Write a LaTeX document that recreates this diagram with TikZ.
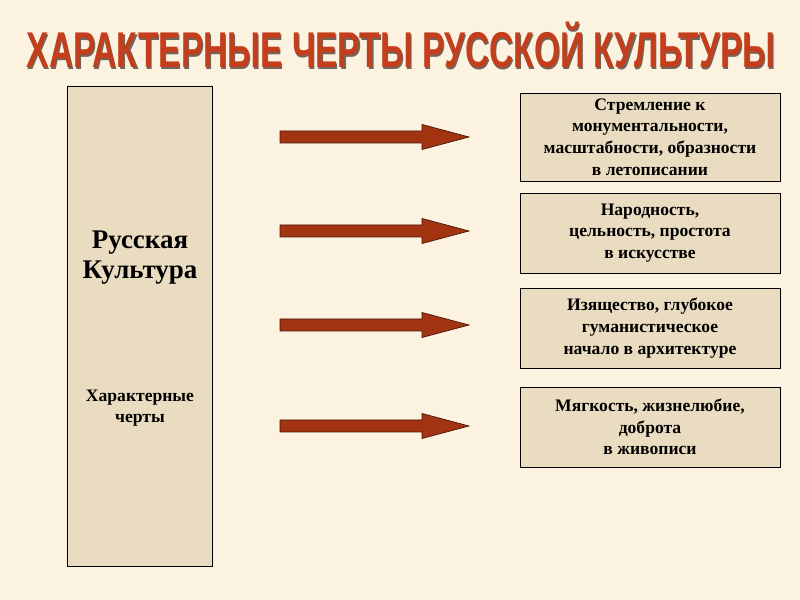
\documentclass[tikz,border=0pt]{standalone}
\usepackage{fontspec}
\setmainfont{Liberation Serif}
\newfontfamily\headfont{Liberation Sans}

\definecolor{paper}{RGB}{252,242,224}
\definecolor{parchment}{RGB}{234,220,192}
\definecolor{rust}{RGB}{163,52,18}
\definecolor{rustedge}{RGB}{70,22,8}
\definecolor{headred}{RGB}{196,62,28}
\definecolor{headshadow}{RGB}{115,100,90}

\newcommand{\shadowed}[1]{%
    \rlap{\kern1.6pt\raisebox{-1.6pt}{\color{headshadow}#1}}#1}

\tikzset{
    heading/.style = {
        font=\headfont\bfseries\fontsize{42.9}{45}\selectfont,
        text=headred,
        xscale=0.667,
        transform shape,
        inner sep=0pt,
        anchor=base
    },
    culture/.style = {
        draw=black,
        fill=parchment,
        line width=0.8pt,
        minimum width=4.35cm,
        minimum height=14.4cm
    },
    feature/.style = {
        draw=black,
        fill=parchment,
        line width=0.8pt,
        minimum width=7.8cm,
        minimum height=#1,
        align=center,
        inner sep=0pt,
        font=\bfseries\fontsize{15}{18.5}\selectfont
    },
    blockarrow/.style = {
        fill=rust,
        draw=rustedge,
        line width=0.6pt
    }
}

\begin{document}
\begin{tikzpicture}[x=0.03cm, y=-0.03cm]
    % Page
    \fill[paper] (0,0) rectangle (800,600);
    \useasboundingbox (0,0) rectangle (800,600);

    % Draw heading
    \node[heading] (title) at (401,67.5) {\shadowed{ХАРАКТЕРНЫЕ ЧЕРТЫ РУССКОЙ КУЛЬТУРЫ}};

    % Draw left column
    \node[culture] (culture) at (139.5,326) {};
    \node[align=center, font=\bfseries\fontsize{23}{25.6}\selectfont] (name) at (140,258) {Русская\\Культура};
    \node[align=center, font=\bfseries\fontsize{15}{18}\selectfont] (traits) at (140,408) {Характерные\\черты};

    % Draw feature boxes
    \node[feature=2.64cm] (f1) at (650,137) {Стремление к\\монументальности,\\масштабности, образности\\в летописании};
    \node[feature=2.4cm] (f2) at (650,233) {Народность,\\цельность, простота\\в искусстве};
    \node[feature=2.4cm] (f3) at (650,328) {Изящество, глубокое\\гуманистическое\\начало в архитектуре};
    \node[feature=2.4cm] (f4) at (650,427) {Мягкость, жизнелюбие,\\доброта\\в живописи};

    % Draw arrows
    \foreach \y [count=\i] in {137,231,325,426} {
        \coordinate (tail\i) at (280,\y);
        \coordinate (tip\i) at (469,\y);
        \draw[blockarrow] (tail\i) ++(0,-6) -- ++(142,0) -- ++(0,-6.5) -- (tip\i)
            -- ++(-47,12.5) -- ++(0,-6.5) -- ++(-142,0) -- cycle;
    }
\end{tikzpicture}
\end{document}
